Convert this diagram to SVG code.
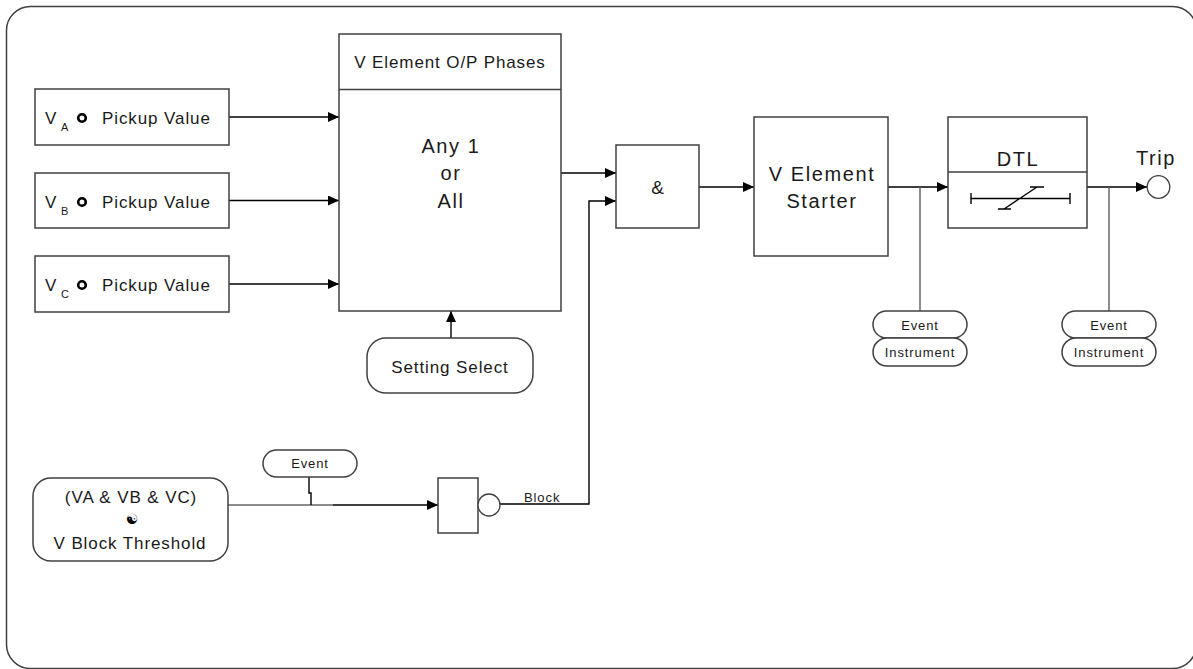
<svg xmlns="http://www.w3.org/2000/svg" width="1193" height="669" viewBox="0 0 1193 669">
<style>
.box{fill:#fff;stroke:#404040;stroke-width:1.5}
.frame{fill:#fff;stroke:#404040;stroke-width:1.5}
.ln{fill:none;stroke:#000;stroke-width:1.4}
.tap{fill:none;stroke:#666;stroke-width:1.5}
.t{font-family:"Liberation Sans",Arial,sans-serif;fill:#1a1a1a}
.m{font-size:17px;letter-spacing:0.9px}
.l{font-size:20px;letter-spacing:1.6px;text-anchor:middle}
.s{font-size:13px;letter-spacing:0.9px;text-anchor:middle}
.c{text-anchor:middle}
.sym{fill:none;stroke:#000;stroke-width:1.4}
.dot{fill:none;stroke:#000;stroke-width:2.6}
</style>
<defs>
<marker id="arr" markerUnits="userSpaceOnUse" markerWidth="11" markerHeight="10" refX="11" refY="5" orient="auto">
<path d="M0,0 L11,5 L0,10 z" fill="#000"/>
</marker>
</defs>
<rect class="frame" x="6.5" y="6.5" width="1190" height="662" rx="24"/>

<g id="connectors">
<path class="ln" d="M229,117 H339" marker-end="url(#arr)"/>
<path class="ln" d="M229,200.5 H339" marker-end="url(#arr)"/>
<path class="ln" d="M229,284 H339" marker-end="url(#arr)"/>
<path class="ln" d="M561,173 H616" marker-end="url(#arr)"/>
<path class="ln" d="M500,504 H589 V201 H616" marker-end="url(#arr)"/>
<path class="ln" d="M699,187 H754" marker-end="url(#arr)"/>
<path class="ln" d="M888,187 H948" marker-end="url(#arr)"/>
<path class="ln" d="M1087,187 H1147" marker-end="url(#arr)"/>
<path class="tap" d="M920,187 V311"/>
<path class="tap" d="M1109,187 V311"/>
<path class="ln" d="M451,338 V311" marker-end="url(#arr)"/>
<path class="tap" d="M228,505 H333"/>
<path class="ln" d="M333,505 H438" marker-end="url(#arr)"/>
<path class="ln" d="M309,477 V493 H311 V505"/>
</g>

<g id="va">
<rect class="box" x="35" y="89" width="194" height="56"/>
<text class="t m" x="45" y="124">V</text>
<text class="t" x="61" y="131" font-size="11">A</text>
<circle class="dot" cx="82" cy="118" r="3.8"/>
<text class="t m" x="102" y="124">Pickup Value</text>
</g>
<g id="vb">
<rect class="box" x="35" y="173" width="194" height="55"/>
<text class="t m" x="45" y="208">V</text>
<text class="t" x="61" y="215" font-size="11">B</text>
<circle class="dot" cx="82" cy="202" r="3.8"/>
<text class="t m" x="102" y="208">Pickup Value</text>
</g>
<g id="vc">
<rect class="box" x="35" y="256" width="194" height="56"/>
<text class="t m" x="45" y="291">V</text>
<text class="t" x="61" y="298" font-size="11">C</text>
<circle class="dot" cx="82" cy="285" r="3.8"/>
<text class="t m" x="102" y="291">Pickup Value</text>
</g>

<g id="phases">
<rect class="box" x="339" y="34" width="222" height="277"/>
<line x1="339" y1="89.5" x2="561" y2="89.5" stroke="#404040" stroke-width="1.5"/>
<text class="t m c" x="450" y="68">V Element O/P Phases</text>
<text class="t l" x="451" y="153">Any 1</text>
<text class="t l" x="451" y="180">or</text>
<text class="t l" x="451" y="208">All</text>
</g>

<g id="setting">
<rect class="box" x="367" y="338" width="166" height="55" rx="19"/>
<text class="t m c" x="450" y="373">Setting Select</text>
</g>

<g id="and">
<rect class="box" x="616" y="145" width="83" height="83"/>
<text class="t c" x="657.5" y="194" font-size="19">&amp;</text>
</g>

<g id="starter">
<rect class="box" x="754" y="117" width="134" height="139"/>
<text class="t l" x="822" y="181">V Element</text>
<text class="t l" x="822" y="208">Starter</text>
</g>

<g id="dtl">
<rect class="box" x="948" y="117" width="139" height="111"/>
<line x1="948" y1="172" x2="1087" y2="172" stroke="#404040" stroke-width="1.5"/>
<text class="t l" x="1018" y="166">DTL</text>
<path class="sym" d="M971,198.5 H1070 M971,193 V204 M1070,193 V204 M1004,209 L1037,187 M1030,187 H1044 M998,209 H1011"/>
</g>

<g id="trip">
<circle cx="1158.5" cy="187" r="11.3" fill="#fff" stroke="#404040" stroke-width="1.3"/>
<text class="t l" x="1156" y="165" font-size="19">Trip</text>
</g>

<g id="rec1">
<rect class="box" x="873" y="311" width="94" height="27" rx="13.5"/>
<text class="t s" x="920" y="330">Event</text>
<rect class="box" x="873" y="338" width="94" height="28" rx="14"/>
<text class="t s" x="920" y="357">Instrument</text>
</g>
<g id="rec2">
<rect class="box" x="1062" y="311" width="94" height="27" rx="13.5"/>
<text class="t s" x="1109" y="330">Event</text>
<rect class="box" x="1062" y="338" width="94" height="28" rx="14"/>
<text class="t s" x="1109" y="357">Instrument</text>
</g>

<g id="vblock">
<rect class="box" x="33" y="478" width="195" height="83" rx="18"/>
<text class="t m c" x="131" y="503">(VA &amp; VB &amp; VC)</text>
<text x="132" y="524" font-family="'DejaVu Sans',sans-serif" font-size="14" text-anchor="middle" fill="#000">☯</text>
<text class="t m c" x="130" y="549">V Block Threshold</text>
</g>

<g id="event3">
<rect class="box" x="263" y="450" width="94" height="27" rx="13.5"/>
<text class="t s" x="310" y="468">Event</text>
</g>

<g id="gate">
<rect class="box" x="438" y="478" width="40" height="55"/>
<circle cx="489" cy="505" r="11" fill="#fff" stroke="#404040" stroke-width="1.3"/>
<text class="t" x="524" y="502" font-size="13" letter-spacing="0.9">Block</text>
</g>
</svg>
